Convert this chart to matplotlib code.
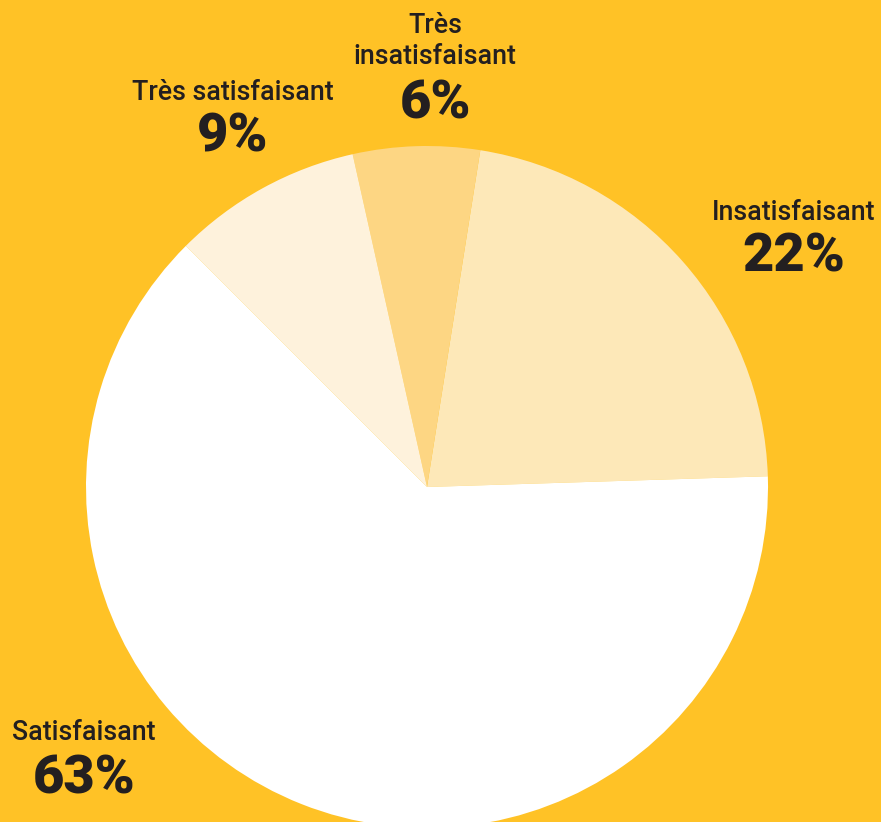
import matplotlib
matplotlib.use("Agg")
import matplotlib.pyplot as plt

labels = ["Insatisfaisant", "Très\ninsatisfaisant", "Très satisfaisant", "Satisfaisant"]
values = [22, 6, 9, 63]
colors = ["#FDE8B8", "#FDD683", "#FEF2DC", "#FFFFFF"]
pct_labels = ["22%", "6%", "9%", "63%"]

BG = "#FFC226"
TXT = "#231F20"

W, H = 881, 822
fig = plt.figure(figsize=(W / 100, H / 100), dpi=100, facecolor=BG)
ax = fig.add_axes([0, 0, 1, 1])
ax.set_facecolor(BG)

cx, cy, r = 427, H - 487, 341
ax.pie(values, colors=colors, startangle=1.8, counterclock=True,
       center=(cx, cy), radius=r, frame=True,
       wedgeprops=dict(linewidth=0))
ax.set_xlim(0, W)
ax.set_ylim(0, H)
ax.set_aspect("equal")
ax.axis("off")

# label positions (pixel coords from top)
name_pos = [(794, 212), (435, 41), (233, 92), (84, 733)]
pct_pos = [(794, 257), (435, 104), (233, 137), (84, 779)]
for lab, pct, (nx, ny), (px, py) in zip(labels, pct_labels, name_pos, pct_pos):
    ax.text(nx, H - ny, lab, ha="center", va="center", fontsize=19.3,
            family="Roboto", fontweight="medium", color=TXT, linespacing=1.15)
    ax.text(px, H - py, pct, ha="center", va="center", fontsize=39,
            family="Roboto", fontweight="black", color=TXT)

fig.savefig("out.png", dpi=100, facecolor=BG)
